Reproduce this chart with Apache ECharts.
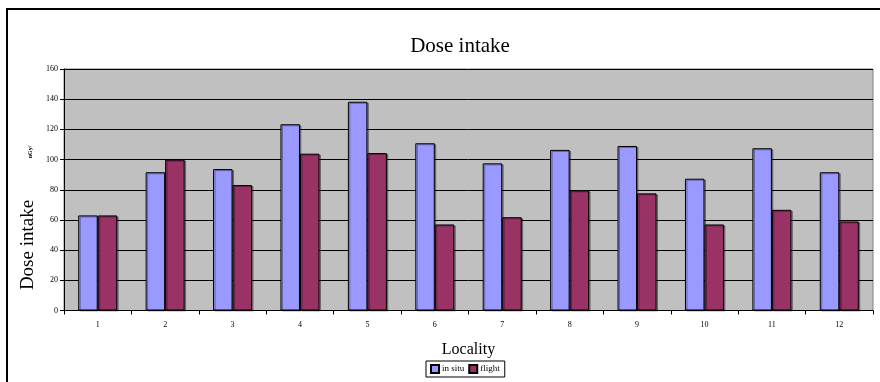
<!DOCTYPE html>
<html>
<head>
<meta charset="utf-8">
<script src="https://cdn.jsdelivr.net/npm/echarts@6/dist/echarts.min.js"></script>
<style>html,body{margin:0;padding:0;background:#fff}#c{width:880px;height:382px}</style>
</head>
<body>
<div id="c"></div>
<script>
var categories = ['1','2','3','4','5','6','7','8','9','10','11','12'];
var inSitu = [63, 91.6, 93.7, 123.4, 138.3, 110.8, 97.5, 106.4, 109, 87.3, 107.5, 91.6];
var flight = [63, 100, 83.1, 103.9, 104.3, 57, 61.8, 79.6, 77.6, 57, 66.7, 59];
var seriesNames = ['in situ', 'flight'];
var yTicks = {min: 0, max: 160, interval: 20};

var serif = '"Liberation Serif", "DejaVu Serif", serif';
var chart = echarts.init(document.getElementById('c'), null, {renderer: 'canvas'});
function barStyle(color) {
  return {
    color: color,
    borderColor: '#000',
    borderWidth: 1,
    shadowColor: 'rgba(0,0,0,0.35)',
    shadowOffsetX: 1.5,
    shadowOffsetY: 1,
    shadowBlur: 0
  };
}
chart.setOption({
  animation: false,
  backgroundColor: '#fff',
  title: {
    text: 'Dose intake',
    left: 455, top: 31, textAlign: 'center',
    textStyle: {fontFamily: serif, fontSize: 21, fontWeight: 'normal', color: '#000'}
  },
  grid: {
    left: 64, top: 69, right: 7, bottom: 71.5,
    show: true, backgroundColor: '#C0C0C0', borderColor: '#808080', borderWidth: 1
  },
  legend: {
    data: seriesNames,
    left: 426, top: 361,
    orient: 'horizontal',
    itemWidth: 8, itemHeight: 8, itemGap: 4,
    padding: [3, 5, 3, 4],
    borderColor: '#000', borderWidth: 1,
    icon: 'rect',
    textStyle: {fontFamily: serif, fontSize: 9, color: '#000', padding: [0, 0, 0, -2]}
  },
  xAxis: {
    type: 'category',
    data: categories,
    name: 'Locality',
    nameLocation: 'middle',
    nameGap: 31,
    nameTextStyle: {fontFamily: serif, fontSize: 16, color: '#000'},
    axisLine: {lineStyle: {color: '#000', width: 1}},
    axisTick: {show: true, alignWithLabel: false, length: 4, lineStyle: {color: '#000'}},
    axisLabel: {fontFamily: serif, fontSize: 8, color: '#000', margin: 10},
    splitLine: {show: false}
  },
  yAxis: {
    type: 'value',
    min: yTicks.min, max: yTicks.max, interval: yTicks.interval,
    axisLine: {show: true, lineStyle: {color: '#000', width: 1}},
    axisTick: {show: true, length: 4, lineStyle: {color: '#000'}},
    axisLabel: {fontFamily: serif, fontSize: 8, color: '#000', margin: 6},
    splitLine: {show: true, lineStyle: {color: '#000', width: 1}}
  },
  series: [
    {name: seriesNames[0], type: 'bar', data: inSitu, barWidth: 19.5, barGap: '0%', itemStyle: barStyle('#9999FF')},
    {name: seriesNames[1], type: 'bar', data: flight, barWidth: 19.5, barGap: '0%', itemStyle: barStyle('#993366')}
  ],
  graphic: [
    {type: 'rect', shape: {x: 7, y: 9, width: 900, height: 400}, style: {fill: 'none', stroke: '#000', lineWidth: 2}, silent: true},
    {type: 'text', x: 28, y: 245, rotation: Math.PI / 2,
      style: {text: 'Dose intake', fontFamily: serif, fontSize: 19, fill: '#000', align: 'center', verticalAlign: 'middle'}},
    {type: 'text', x: 30, y: 152, rotation: Math.PI / 2,
      style: {text: 'nGy/', fontFamily: serif, fontSize: 6, fontWeight: 'bold', fill: '#000', align: 'center', verticalAlign: 'middle'}}
  ]
});
</script>
</body>
</html>
